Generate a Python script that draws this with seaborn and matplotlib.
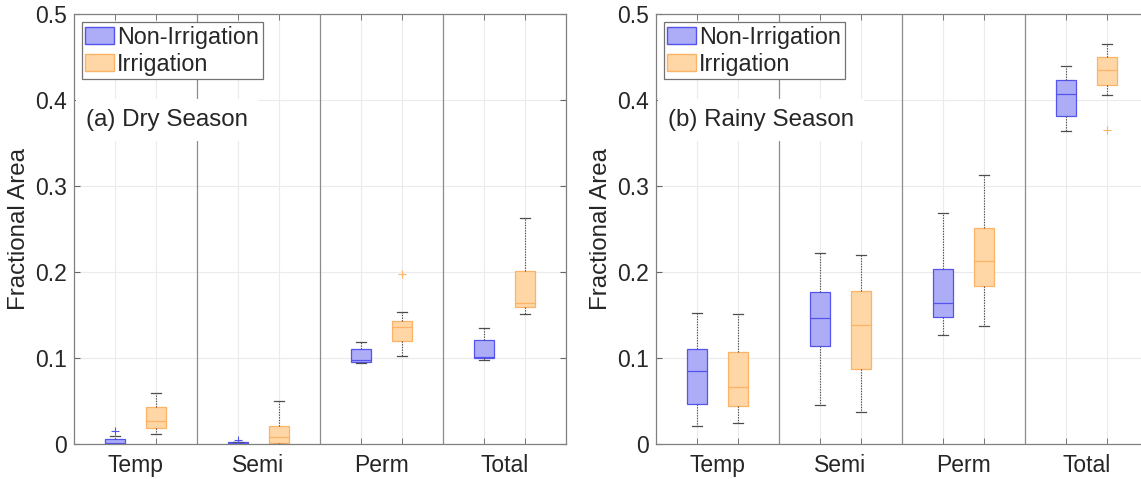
import matplotlib.pyplot as plt
import pandas as pd
import seaborn as sns
from matplotlib.patches import Patch
from matplotlib.ticker import FuncFormatter

categories = ["Temp", "Semi", "Perm", "Total"]
groups = ["Non-Irrigation", "Irrigation"]

# box summaries: low whisker, q1, median, q3, high whisker
dry_nonirr_lo = [0.0, 0.0, 0.0942, 0.0977]
dry_nonirr_q1 = [0.0005, 0.0003, 0.0961, 0.1000]
dry_nonirr_med = [0.0015, 0.0010, 0.0985, 0.1012]
dry_nonirr_q3 = [0.0058, 0.0025, 0.1105, 0.1210]
dry_nonirr_hi = [0.0100, 0.0030, 0.1186, 0.1350]

dry_irr_lo = [0.0123, 0.0, 0.1023, 0.1510]
dry_irr_q1 = [0.0186, 0.0020, 0.1198, 0.1593]
dry_irr_med = [0.0274, 0.0088, 0.1360, 0.1640]
dry_irr_q3 = [0.0430, 0.0213, 0.1438, 0.2016]
dry_irr_hi = [0.0600, 0.0500, 0.1535, 0.2630]

rainy_nonirr_lo = [0.0217, 0.0461, 0.1267, 0.3643]
rainy_nonirr_q1 = [0.0465, 0.1147, 0.1480, 0.3814]
rainy_nonirr_med = [0.0853, 0.1465, 0.1640, 0.4070]
rainy_nonirr_q3 = [0.1105, 0.1771, 0.2043, 0.4236]
rainy_nonirr_hi = [0.1523, 0.2225, 0.2686, 0.4400]

rainy_irr_lo = [0.0244, 0.0380, 0.1372, 0.4058]
rainy_irr_q1 = [0.0442, 0.0880, 0.1845, 0.4174]
rainy_irr_med = [0.0663, 0.1388, 0.2128, 0.4349]
rainy_irr_q3 = [0.1070, 0.1779, 0.2512, 0.4508]
rainy_irr_hi = [0.1516, 0.2205, 0.3136, 0.4659]

# outliers: (category, value)
dry_nonirr_out = [("Temp", 0.0151), ("Semi", 0.0050)]
dry_irr_out = [("Perm", 0.1984)]
rainy_nonirr_out = []
rainy_irr_out = [("Total", 0.3651)]

face_colors = {"Non-Irrigation": (0.68, 0.68, 0.97), "Irrigation": (1.0, 0.84, 0.65)}
edge_colors = {"Non-Irrigation": (0.33, 0.33, 0.93), "Irrigation": (0.99, 0.70, 0.40)}
WHISKER = (0.3, 0.3, 0.3)
TEXT = (0.15, 0.15, 0.15)
SLOT = 2 / 3

plt.rcParams["font.family"] = ["Liberation Sans", "DejaVu Sans"]


def summary_frame(lo, q1, med, q3, hi, group):
    # five points per box -> linear quartiles land exactly on q1/med/q3
    rows = []
    for i, cat in enumerate(categories):
        for v in (lo[i], q1[i], med[i], q3[i], hi[i]):
            rows.append({"category": cat, "group": group, "value": v})
    return pd.DataFrame(rows)


def draw_panel(ax, frames, outliers, label):
    for group, frame in zip(groups, frames):
        sns.boxplot(
            data=frame, x="category", y="value", hue="group",
            order=categories, hue_order=groups, palette=face_colors,
            saturation=1, linecolor=edge_colors[group], linewidth=0.9,
            width=SLOT, gap=0.5, dodge=True, whis=(0, 100), legend=False,
            whiskerprops=dict(color=WHISKER, linestyle=(0, (1.2, 1.2)), linewidth=0.8),
            capprops=dict(color=WHISKER, linewidth=0.9),
            ax=ax,
        )

    n = len(groups)
    for h, (group, pts) in enumerate(zip(groups, outliers)):
        off = (h - (n - 1) / 2) * SLOT / n
        for cat, val in pts:
            ax.plot(categories.index(cat) + off, val, marker="+", ms=6, mew=0.8,
                    color=edge_colors[group], ls="none", zorder=4)

    box_pos = [i + (h - (n - 1) / 2) * SLOT / n for i in range(len(categories)) for h in range(n)]
    ax.set_xlim(-0.5, len(categories) - 0.5)
    ax.set_ylim(0, 0.5)
    ax.set_yticks([0, 0.1, 0.2, 0.3, 0.4, 0.5])
    ax.yaxis.set_major_formatter(FuncFormatter(lambda v, p: f"{v:g}"))
    ax.set_xticks(range(len(categories)))
    ax.set_xticklabels(categories)
    ax.set_xticks(box_pos, minor=True)

    ax.set_axisbelow(True)
    ax.grid(axis="y", which="major", color=(0.92, 0.92, 0.92), lw=0.8)
    ax.grid(axis="x", which="minor", color=(0.92, 0.92, 0.92), lw=0.8)
    ax.grid(axis="x", which="major", visible=False)
    for i in range(len(categories) - 1):
        ax.axvline(i + 0.5, color=(0.55, 0.55, 0.55), lw=0.9, zorder=0.8)

    ax.tick_params(axis="x", which="major", length=0, pad=7, labelsize=16.5, labelcolor=TEXT)
    ax.tick_params(axis="x", which="minor", direction="in", length=4, top=True,
                   color=(0.4, 0.4, 0.4))
    ax.tick_params(axis="y", direction="in", length=4, right=True, labelsize=16.5,
                   labelcolor=TEXT, color=(0.4, 0.4, 0.4), pad=5)
    for s in ax.spines.values():
        s.set_color((0.5, 0.5, 0.5))
        s.set_linewidth(0.9)
        s.set_zorder(7)

    ax.set_xlabel("")
    ax.set_ylabel("Fractional Area", fontsize=17.4, color=TEXT, labelpad=4)

    ax.text(0.024, 0.755, label, transform=ax.transAxes, fontsize=17.4, color=TEXT,
            va="center", ha="left", zorder=5,
            bbox=dict(boxstyle="square,pad=0.42", fc="white", ec="none"))

    handles = [Patch(facecolor=face_colors[g], edgecolor=edge_colors[g], lw=1) for g in groups]
    leg = ax.legend(handles, groups, loc="upper left", bbox_to_anchor=(0.016, 0.982),
                    borderaxespad=0, fontsize=16.8, frameon=True, fancybox=False,
                    framealpha=1, edgecolor=(0.45, 0.45, 0.45), handlelength=1.23,
                    handleheight=0.72, handletextpad=0.14, labelspacing=0.18,
                    borderpad=0.15, labelcolor=TEXT)
    leg.get_frame().set_linewidth(0.9)
    leg.set_zorder(6)


fig = plt.figure(figsize=(11.41, 4.79), dpi=100)
ax_a = fig.add_axes([74 / 1141, 34.7 / 479, 492 / 1141, 430 / 479])
ax_b = fig.add_axes([656 / 1141, 34.7 / 479, 492 / 1141, 430 / 479])

dry_frames = [
    summary_frame(dry_nonirr_lo, dry_nonirr_q1, dry_nonirr_med, dry_nonirr_q3, dry_nonirr_hi, groups[0]),
    summary_frame(dry_irr_lo, dry_irr_q1, dry_irr_med, dry_irr_q3, dry_irr_hi, groups[1]),
]
rainy_frames = [
    summary_frame(rainy_nonirr_lo, rainy_nonirr_q1, rainy_nonirr_med, rainy_nonirr_q3, rainy_nonirr_hi, groups[0]),
    summary_frame(rainy_irr_lo, rainy_irr_q1, rainy_irr_med, rainy_irr_q3, rainy_irr_hi, groups[1]),
]

draw_panel(ax_a, dry_frames, [dry_nonirr_out, dry_irr_out], "(a) Dry Season")
draw_panel(ax_b, rainy_frames, [rainy_nonirr_out, rainy_irr_out], "(b) Rainy Season")

fig.savefig("out.png", dpi=100)
